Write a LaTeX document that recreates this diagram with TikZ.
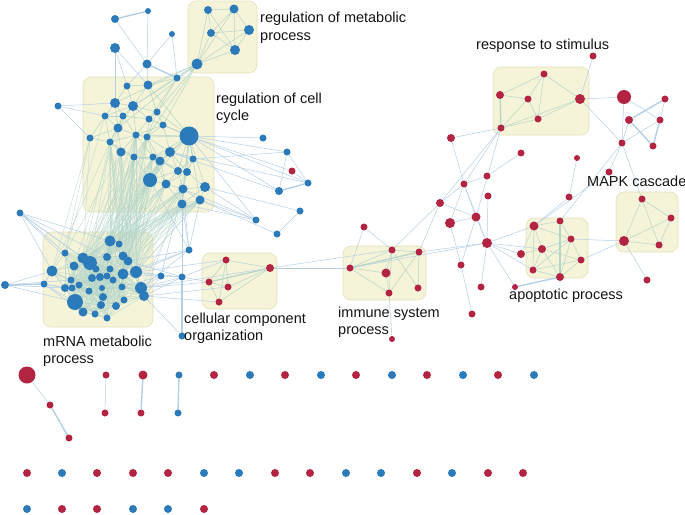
\documentclass[tikz,border=0pt]{standalone}
\usepackage{fontspec}
\setmainfont{Liberation Sans}
\definecolor{nred}{HTML}{B32442}
\definecolor{nblue}{HTML}{2B7AB9}
\definecolor{ecol}{HTML}{B3CFE6}
\definecolor{gcol}{HTML}{B3D5C9}
\definecolor{boxfill}{HTML}{F5F3D8}
\definecolor{boxline}{HTML}{E4E1BC}
\pgfdeclarelayer{boxes}\pgfdeclarelayer{edges}
\pgfsetlayers{boxes,edges,main}
\begin{document}
\begin{tikzpicture}[x=1pt,y=-1pt,
 dot/.style={circle,inner sep=0pt,outer sep=0pt,minimum size=#1pt,draw=none},
 bd/.style={dot=#1,fill=nblue},
 rd/.style={dot=#1,fill=nred},
 ed/.style={draw=ecol,line width=0.5pt},
 edt/.style={draw=ecol,line width=1.4pt},
 ge/.style={draw=gcol,line width=0.5pt},
 get/.style={draw=gcol,line width=1.2pt},
 fan/.style={draw=gcol,line width=0.5pt,opacity=0.7},
 bx/.style={fill=boxfill,draw=boxline,line width=0.6pt,rounded corners=8pt},
 lab/.style={anchor=base west,inner sep=0pt,font=\fontsize{14.5}{17}\selectfont,text=black!92}]
\useasboundingbox (0,0) rectangle (685,514);

% ---------- boxes ----------
\begin{pgfonlayer}{boxes}
\draw[bx] (188,1) rectangle (257,73);
\draw[bx] (83,77) rectangle (214,212);
\draw[bx] (43,232) rectangle (153,327);
\draw[bx] (202,253) rectangle (277,309);
\draw[bx] (343,246) rectangle (426,300);
\draw[bx] (493,67) rectangle (589,135);
\draw[bx] (526,218) rectangle (588,278);
\draw[bx] (616,192) rectangle (678,252);
\end{pgfonlayer}

% ---------- node lists ----------
\def\clist{127/86/7, 148/85/9, 115/103/10, 133/106/10, 105/116/7, 123/116/7, 157/112/7, 149/119/7, 118/128/9, 163/125/7, 136/135/7, 147/137/7, 90/138/7, 110/142/7, 189/136/19, 170/152/10, 121/152/9, 134/157/7, 153/157/7, 160/161/9, 193/159/7, 178/171/8, 187/172/8, 150/180/14, 166/184/9, 183/189/9, 205/187/10, 182/204/9, 200/200/9}
\def\mlist{110/241/11, 119/244/7, 65/253/7, 83/258/11, 90/263/14, 74/266/9, 107/257/8, 123/256/9, 128/261/9, 96/269/7, 110/269/7, 52/271/11, 136/272/12, 123/274/11, 92/278/8, 100/277/8, 107/276/7, 113/280/7, 71/280/7, 79/285/7, 65/288/8, 72/288/7, 102/288/6, 122/287/7, 141/288/12, 89/291/7, 144/296/10, 103/297/8, 75/302/16, 124/300/7, 116/306/8, 101/305/8, 83/312/9, 95/314/7, 107/318/7}

\foreach \x/\y/\sz [count=\i] in \clist {\node[bd=\sz] (c\i) at (\x,\y) {};}
\foreach \x/\y/\sz [count=\i] in \mlist {\node[bd=\sz] (n\i) at (\x,\y) {};}

% top cluster
\node[bd=8] (t1) at (115,19) {};
\node[bd=6] (t2) at (148,11) {};
\node[bd=6] (t3) at (172,34) {};
\node[bd=10] (t4) at (115,48) {};
\node[bd=9] (t5) at (147,64) {};
\node[bd=7] (t6) at (177,78) {};
\node[bd=7] (t7) at (58,106) {};
% metabolic
\node[bd=8] (mt1) at (208,10) {};
\node[bd=9] (mt2) at (234,9) {};
\node[bd=8] (mt3) at (211,33) {};
\node[bd=10] (mt4) at (249,30) {};
\node[bd=10] (mt5) at (235,50) {};
\node[bd=11] (mt6) at (197,64) {};
% right of cell cycle
\node[bd=7] (e1) at (263,138) {};
\node[bd=7] (e2) at (287,152) {};
\node[rd=7] (e3) at (292,171) {};
\node[bd=7] (e4) at (308,183) {};
\node[bd=8] (e5) at (279,191) {};
\node[bd=7] (e6) at (256,220) {};
\node[bd=7] (e7) at (300,211) {};
\node[bd=7] (e8) at (277,234) {};
% around mRNA
\node[bd=7] (f1) at (189,250) {};
\node[bd=7] (f2) at (161,276) {};
\node[bd=7] (f3) at (182,277) {};
\node[bd=7] (f4) at (182,336) {};
\node[bd=7] (g1) at (20,213) {};
\node[bd=8] (g2) at (5,285) {};
\node[bd=7] (g3) at (44,284) {};
% cellular component
\node[rd=7] (cc1) at (226,260) {};
\node[rd=8] (cc2) at (270,268) {};
\node[rd=7] (cc3) at (209,282) {};
\node[rd=7] (cc4) at (228,287) {};
\node[rd=7] (cc5) at (219,302) {};
% immune
\node[rd=7] (im1) at (364,227) {};
\node[rd=7] (im2) at (392,250) {};
\node[rd=7] (im3) at (419,252) {};
\node[rd=7] (im4) at (350,268) {};
\node[rd=9] (im5) at (386,273) {};
\node[rd=7] (im6) at (389,293) {};
\node[rd=7] (im7) at (418,288) {};
\node[rd=6] (im8) at (392,339) {};
% response
\node[rd=7] (s1) at (544,74) {};
\node[rd=8] (s2) at (500,95) {};
\node[rd=7] (s3) at (528,99) {};
\node[rd=10] (s4) at (580,99) {};
\node[rd=7] (s5) at (538,119) {};
\node[rd=7] (s6) at (501,128) {};
\node[rd=7] (s7) at (593,56) {};
% right middle
\node[rd=8] (ra) at (440,203) {};
\node[rd=7] (rb) at (464,184) {};
\node[rd=7] (rc) at (487,176) {};
\node[rd=7] (rdd) at (488,196) {};
\node[rd=10] (re) at (450,223) {};
\node[rd=9] (rf) at (476,217) {};
\node[rd=10] (rg) at (487,243) {};
\node[rd=7] (rh) at (461,265) {};
\node[rd=7] (ri) at (481,287) {};
\node[rd=7] (rj) at (472,314) {};
\node[rd=6] (rk) at (515,287) {};
\node[rd=7] (rl) at (521,153) {};
\node[rd=6] (rm) at (577,158) {};
\node[rd=7] (rn) at (569,197) {};
\node[rd=8] (ro) at (451,138) {};
\node[rd=7] (rp) at (609,172) {};
% apoptotic
\node[rd=9] (ap1) at (534,226) {};
\node[rd=7] (ap2) at (560,221) {};
\node[rd=7] (ap3) at (571,239) {};
\node[rd=8] (ap4) at (542,249) {};
\node[rd=7] (ap5) at (581,260) {};
\node[rd=7] (ap6) at (533,270) {};
\node[rd=8] (ap7) at (560,277) {};
\node[rd=8] (ap8) at (521,254) {};
% MAPK area
\node[rd=14] (mk1) at (624,97) {};
\node[rd=7] (mk2) at (665,99) {};
\node[rd=8] (mk3) at (629,120) {};
\node[rd=7] (mk4) at (660,120) {};
\node[rd=7] (mk5) at (622,143) {};
\node[rd=7] (mk6) at (653,146) {};
\node[rd=7] (x1) at (642,199) {};
\node[rd=7] (x2) at (671,218) {};
\node[rd=10] (x3) at (624,241) {};
\node[rd=7] (x4) at (659,245) {};
\node[rd=7] (x5) at (647,280) {};

% bottom small components
\node[rd=17] (q1) at (27,375) {};
\node[rd=7] (q2) at (50,405) {};
\node[rd=7] (q3) at (69,438) {};
\node[rd=7] (q4) at (106,375) {};
\node[rd=7] (q5) at (105,413) {};
\node[rd=9] (q6) at (143,375) {};
\node[rd=7] (q7) at (141,413) {};
\node[bd=7] (q8) at (179,375) {};
\node[bd=7] (q9) at (178,413) {};
\foreach \x/\c [count=\i] in {214/nred,250/nblue,285/nred,321/nblue,356/nred,392/nblue,427/nred,463/nblue,498/nred,534/nblue}
  {\node[dot=8,fill=\c] (u\i) at (\x,375) {};}
\foreach \x/\c [count=\i] in {27/nred,62/nblue,97/nred,133/nred,168/nred,204/nblue,239/nblue,275/nred,310/nred,346/nblue,381/nblue,417/nred,452/nblue,488/nred,523/nred}
  {\node[dot=8,fill=\c] (v\i) at (\x,473) {};}
\foreach \x/\c [count=\i] in {27/nblue,62/nred,97/nred,133/nblue,168/nblue,204/nred}
  {\node[dot=8,fill=\c] (w\i) at (\x,509) {};}

% ---------- labels ----------
\node[lab] (L1a) at (260,23) {regulation of metabolic};
\node[lab] (L1b) at (260,40) {process};
\node[lab] (L2a) at (216,103) {regulation of cell};
\node[lab] (L2b) at (216,120) {cycle};
\node[lab] (L3a) at (43,346) {mRNA metabolic};
\node[lab] (L3b) at (43,363) {process};
\node[lab] (L4a) at (184,323) {cellular component};
\node[lab] (L4b) at (184,340) {organization};
\node[lab] (L5a) at (338,317) {immune system};
\node[lab] (L5b) at (338,334) {process};
\node[lab] (L6) at (476,49) {response to stimulus};
\node[lab] (L7) at (587,186) {MAPK cascade};
\node[lab] (L8) at (509,299) {apoptotic process};

% ---------- edges ----------
\begin{pgfonlayer}{edges}
% dense mRNA
\foreach \ax/\ay/\as [count=\i] in \mlist {
  \foreach \bx/\by/\bs [count=\j] in \mlist {
    \ifnum\j>\i
      \pgfmathsetmacro\dd{veclen(\ax-\bx,\ay-\by)}
      \ifdim\dd pt<44pt \draw[ge,opacity=0.75] (n\i) -- (n\j); \fi
    \fi
  }
}
% dense cell cycle
\foreach \ax/\ay/\as [count=\i] in \clist {
  \foreach \bx/\by/\bs [count=\j] in \clist {
    \ifnum\j>\i
      \pgfmathsetmacro\dd{veclen(\ax-\bx,\ay-\by)}
      \ifdim\dd pt<30pt \draw[ge] (c\i) -- (c\j); \fi
    \fi
  }
}
\foreach \a in {2,7,10,12,16,19,20,21,22,23,24,26,27,28,29,11,8}
  {\draw[ge] (c15) -- (c\a);}
% bundle cell cycle -> mRNA
\foreach \a in {14,17,18,19,20,24,25,26,28,29,11,12}
  \foreach \b in {1,2,7,8,9,4,5,13,14}
    {\draw[fan] (c\a) -- (n\b);}
\foreach \a/\b in {13/3,13/12,13/4,14/12,17/3,9/6,9/1,5/3,28/25,29/13,26/27,16/1,21/13}
  {\draw[fan] (c\a) -- (n\b);}
% top cluster
\draw[edt] (t1) -- (t2);
\draw[ed] (t2) -- (t5);
\draw[ed] (t1) -- (t5);
\draw[ed] (t3) -- (t5);
\draw[ed] (t3) -- (t6);
\draw[edt] (t5) -- (t6);
\foreach \a in {1,2,3} {\draw[ed] (t4) -- (c\a);}
\foreach \a in {1,2} {\draw[ed] (t5) -- (c\a);}
\draw[ed] (t6) -- (mt6);
\foreach \a in {2,4,7,8} {\draw[ge] (t6) -- (c\a);}
\foreach \a in {5,13,3} {\draw[ed] (t7) -- (c\a);}
% metabolic
\foreach \a/\b in {1/2,1/3,1/5,1/6,2/3,2/4,2/5,2/6,3/4,3/6,3/5,4/5,4/6,5/6}
  {\draw[ge] (mt\a) -- (mt\b);}
\foreach \a in {2,4,7,3,9,12,10}
  {\draw[ge] (mt6) -- (c\a);}
% right of cell cycle
\foreach \a in {1,2,3,4,5,6} {\draw[ed] (c15) -- (e\a);}
\draw[ed] (c16) -- (e5);
\draw[ed] (c16) -- (e4);
\draw[ed] (c21) -- (e2);
\draw[ed] (e2) -- (e5);
\draw[ed] (e2) -- (e4);
\draw[edt] (e5) -- (e4);
\draw[ed] (e3) -- (e4);
\draw[ed] (e7) -- (e8);
\foreach \a in {27,29,28,26} {\draw[ed] (c\a) -- (e6);}
\draw[ed] (c27) -- (e7);
\draw[ed] (c29) -- (e8);
% around mRNA
\foreach \b in {1,3,4,5,12,6,7} {\draw[ed] (g1) -- (n\b);}
\draw[edt] (g2) -- (g3);
\foreach \b in {12,21,29,19} {\draw[ed] (g2) -- (n\b);}
\foreach \b in {12,21,29,33,22} {\draw[ed] (g3) -- (n\b);}
\foreach \b in {13,9,25,14} {\draw[ed] (f1) -- (n\b);}
\foreach \a in {28,24,26,29} {\draw[ed] (f1) -- (c\a);}
\foreach \b in {13,25,27,14,24} {\draw[ed] (f2) -- (n\b);}
\draw[ed] (f2) -- (f3);
\draw[edt] (f3) -- (f4);
\foreach \b in {25,27,13,9} {\draw[ed] (f3) -- (n\b);}
\draw[ed] (f3) -- (cc3);
\draw[ed] (f3) -- (cc1);
\draw[ed] (f3) -- (c28);
\draw[ed] (f2) -- (c26);
\draw[ed] (f4) -- (n27);
\draw[ed] (n25) -- (cc3);
\draw[ed] (n27) -- (cc4);
\draw[ed] (n27) -- (cc5);
\draw[ed] (n13) -- (cc1);
\draw[ed] (n25) -- (cc2);
% cellular component
\foreach \a/\b in {1/2,1/3,1/4,4/2,5/2,5/3,3/4,1/5}
  {\draw[ge] (cc\a) -- (cc\b);}
\draw[get] (cc3) -- (cc2);
\draw[ed] (cc2) -- (im4);
\draw[ed] (cc2) -- (im2);
% immune
\draw[ed] (im1) -- (im2);
\draw[ed] (im1) -- (im4);
\foreach \a/\b in {2/3,2/5,2/6,2/7,3/6,3/7,4/2,4/5,4/6,5/6}
  {\draw[ge] (im\a) -- (im\b);}
\draw[get] (im3) -- (im4);
\draw[ed] (im6) -- (im8);
\draw[ed] (im2) -- (ra);
\draw[ed] (im3) -- (ra);
\draw[ed] (im3) -- (rg);
% response
\foreach \a/\b in {1/2,1/3,1/4,1/5,2/3,3/6,3/5,5/6,5/4,6/4}
  {\draw[ge] (s\a) -- (s\b);}
\draw[get] (s2) -- (s6);
\draw[ed] (s4) -- (s7);
\draw[ed] (s4) -- (mk1);
\draw[ed] (s4) -- (mk5);
\draw[ed] (s6) -- (ro);
\draw[ed] (s6) -- (ra);
\draw[ed] (s6) -- (rb);
\draw[ed] (s6) -- (rf);
% right middle
\draw[ed] (ra) -- (rb);
\draw[ed] (ra) -- (rf);
\draw[ed] (rb) -- (rf);
\draw[ed] (rb) -- (re);
\draw[ed] (rb) -- (ro);
\draw[ed] (rb) -- (rc);
\draw[ed] (rb) -- (rg);
\draw[ed] (re) -- (rf);
\draw[ed] (re) -- (rh);
\draw[ed] (rf) -- (rg);
\draw[ed] (rf) -- (rh);
\draw[ed] (rdd) -- (rg);
\draw[ed] (rc) -- (rl);
\draw[ed] (rg) -- (ri);
\draw[ed] (rg) -- (rk);
\draw[ed] (rg) -- (ap1);
\draw[ed] (rg) -- (ap4);
\draw[ed] (rg) -- (ap8);
\draw[ed] (rg) -- (ap6);
\draw[ed] (rh) -- (rj);
\draw[edt] (rk) -- (ap7);
\draw[ed] (rm) -- (rn);
\draw[ed] (rn) -- (ap1);
\draw[ed] (rp) -- (mk5);
\draw[ed] (rp) -- (ap1);
\draw[ed] (im4) -- (rg);
% apoptotic
\foreach \a/\b in {1/2,1/3,1/4,1/6,1/8,2/3,3/4,3/5,3/6,4/5,4/7,4/6,6/7,6/5,5/7,8/4,3/7}
  {\draw[ge] (ap\a) -- (ap\b);}
\draw[get] (ap2) -- (ap7);
\draw[ed] (ap3) -- (x3);
\draw[ed] (ap5) -- (x3);
% MAPK
\draw[ed] (mk1) -- (mk5);
\draw[ed] (mk1) -- (mk4);
\draw[edt] (mk3) -- (mk2);
\draw[edt] (mk3) -- (mk6);
\draw[ed] (mk3) -- (mk5);
\draw[ed] (mk4) -- (mk2);
\draw[edt] (mk4) -- (mk6);
\draw[ed] (mk4) -- (mk5);
\draw[ed] (mk5) -- (ap2);
\draw[ed] (mk5) -- (x1);
\foreach \a/\b in {1/3,1/4,1/2,2/4,2/3,3/4}
  {\draw[ge] (x\a) -- (x\b);}
\draw[ed] (x3) -- (x5);
% bottom
\draw[ed] (q1) -- (q2);
\draw[edt] (q2) -- (q3);
\draw[ed] (q4) -- (q5);
\draw[edt] (q6) -- (q7);
\draw[edt] (q8) -- (q9);
\end{pgfonlayer}
\end{tikzpicture}
\end{document}
